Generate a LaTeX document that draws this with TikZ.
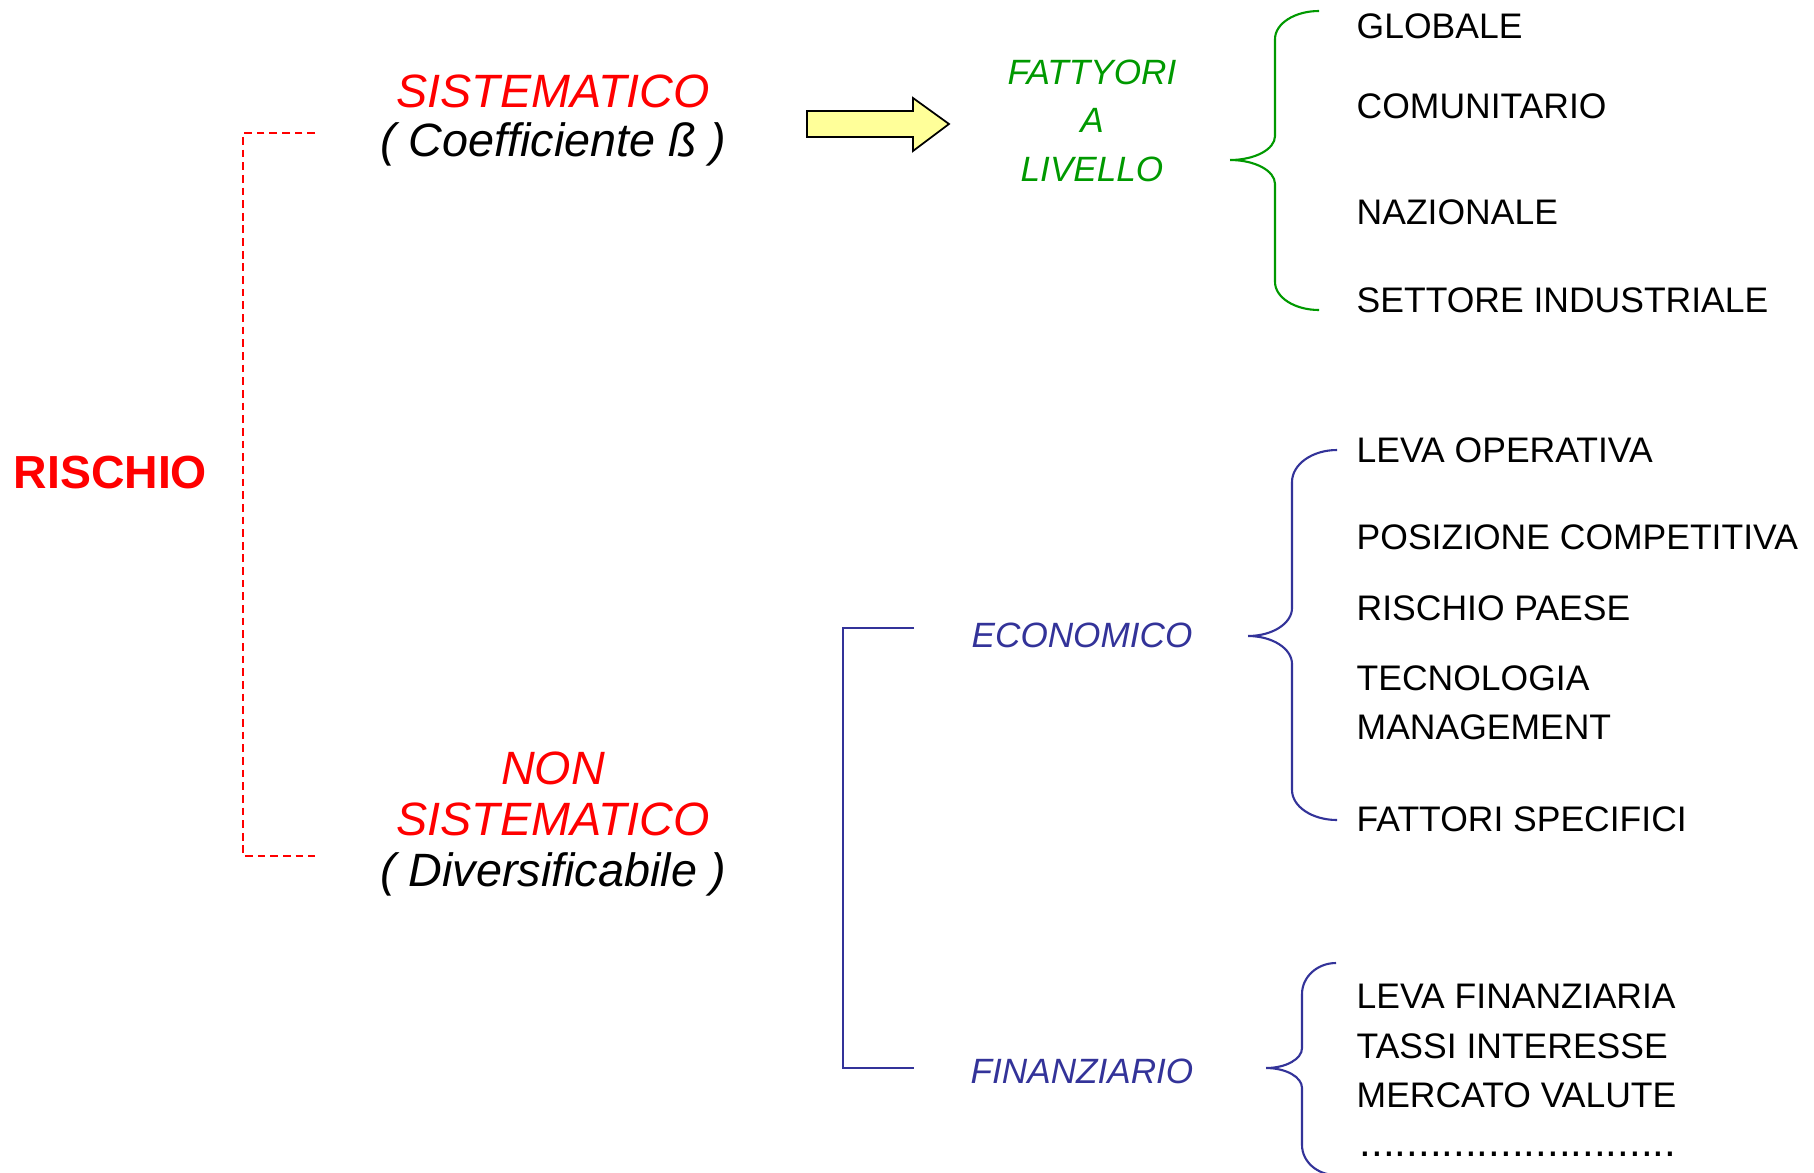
\documentclass[tikz,border=0pt]{standalone}
\usepackage{fontspec}
\setmainfont{Liberation Sans}
\usepackage{xcolor}
\definecolor{rossoR}{HTML}{FF0000}
\definecolor{verdeF}{HTML}{009900}
\definecolor{bluE}{HTML}{333399}
\definecolor{gialloF}{HTML}{FFFF99}

\begin{document}
\begin{tikzpicture}[inner sep=0pt,
    voce/.style={anchor=base west, font=\fontsize{10.1}{12}\selectfont},
    ramo/.style={anchor=base, text=bluE, font=\itshape\fontsize{10}{12}\selectfont},
    tipo/.style={anchor=base, font=\itshape\fontsize{13.3}{15}\selectfont},
    graffa/.style={line width=0.6pt}]
\useasboundingbox (0,0) rectangle (18.14,-11.72);

\node[anchor=base west, text=rossoR, font=\bfseries\fontsize{13.2}{16}\selectfont] (rischio) at (0.13,-4.88) {RISCHIO};

\node[tipo, text=rossoR] (sis) at (5.53,-1.07) {SISTEMATICO};
\node[tipo] (sisBeta) at (5.53,-1.56) {( Coefficiente ß )};
\node[tipo, text=rossoR] (non) at (5.53,-7.84) {NON};
\node[tipo, text=rossoR] (nonSis) at (5.53,-8.35) {SISTEMATICO};
\node[tipo] (nonDiv) at (5.53,-8.86) {( Diversificabile )};

% rischio
\coordinate (sisAttacco) at (3.15,-1.33);
\coordinate (nonAttacco) at (3.15,-8.56);
\draw[rossoR, line width=0.8pt, dash pattern=on 2.2pt off 1.4pt] (sisAttacco) -- ++(-0.72,0) |- (nonAttacco);

% freccia
\draw[line width=0.5pt, fill=gialloF] (8.07,-1.11) -- (9.13,-1.11) -- (9.13,-0.98) -- (9.49,-1.24)
    -- (9.13,-1.51) -- (9.13,-1.37) -- (8.07,-1.37) -- cycle;

\node[ramo, text=verdeF] (fattori) at (10.92,-0.84) {FATTYORI};
\node[ramo, text=verdeF] (fattoriA) at (10.92,-1.32) {A};
\node[ramo, text=verdeF] (fattoriLiv) at (10.92,-1.81) {LIVELLO};

\coordinate (gTip) at (12.30,-1.60);
\draw[graffa, verdeF] (gTip) arc[start angle=-90, end angle=0, x radius=0.45, y radius=0.24] -- ++(0,0.97)
    arc[start angle=180, end angle=90, x radius=0.44, y radius=0.28]
    (gTip) arc[start angle=90, end angle=0, x radius=0.45, y radius=0.24] -- ++(0,-0.98)
    arc[start angle=180, end angle=270, x radius=0.44, y radius=0.28];

\node[voce] (globale) at (13.56,-0.38) {GLOBALE};
\node[voce] (comunitario) at (13.56,-1.18) {COMUNITARIO};
\node[voce] (nazionale) at (13.56,-2.24) {NAZIONALE};
\node[voce] (settore) at (13.56,-3.12) {SETTORE INDUSTRIALE};

% non sistematico
\coordinate (ecoAttacco) at (9.14,-6.28);
\coordinate (finAttacco) at (9.14,-10.68);
\draw[bluE, line width=0.7pt] (ecoAttacco) -- ++(-0.71,0) |- (finAttacco);

\node[ramo] (eco) at (10.82,-6.47) {ECONOMICO};
\node[ramo] (fin) at (10.82,-10.83) {FINANZIARIO};

\coordinate (eTip) at (12.48,-6.36);
\draw[graffa, bluE] (eTip) arc[start angle=-90, end angle=0, x radius=0.44, y radius=0.28] -- ++(0,1.26)
    arc[start angle=180, end angle=90, x radius=0.45, y radius=0.32]
    (eTip) arc[start angle=90, end angle=0, x radius=0.44, y radius=0.28] -- ++(0,-1.26)
    arc[start angle=180, end angle=270, x radius=0.45, y radius=0.30];

\node[voce] (levaOp) at (13.56,-4.62) {LEVA OPERATIVA};
\node[voce] (posizione) at (13.56,-5.49) {POSIZIONE COMPETITIVA};
\node[voce] (rischioPaese) at (13.56,-6.20) {RISCHIO PAESE};
\node[voce] (tecnologia) at (13.56,-6.90) {TECNOLOGIA};
\node[voce] (management) at (13.56,-7.39) {MANAGEMENT};
\node[voce] (fattoriSpec) at (13.56,-8.31) {FATTORI SPECIFICI};

\coordinate (fTip) at (12.66,-10.68);
\draw[graffa, bluE] (fTip) arc[start angle=-90, end angle=0, x radius=0.36, y radius=0.20] -- ++(0,0.54)
    arc[start angle=180, end angle=90, x radius=0.34, y radius=0.31]
    (fTip) arc[start angle=90, end angle=0, x radius=0.36, y radius=0.20] -- ++(0,-0.57)
    arc[start angle=180, end angle=270, x radius=0.34, y radius=0.30];

\node[voce] (levaFin) at (13.56,-10.08) {LEVA FINANZIARIA};
\node[voce] (tassi) at (13.56,-10.58) {TASSI INTERESSE};
\node[voce] (mercato) at (13.56,-11.07) {MERCATO VALUTE};
\node[voce, font=\fontsize{12}{14}\selectfont] (puntini) at (13.59,-11.56) {...........................};
\end{tikzpicture}
\end{document}
